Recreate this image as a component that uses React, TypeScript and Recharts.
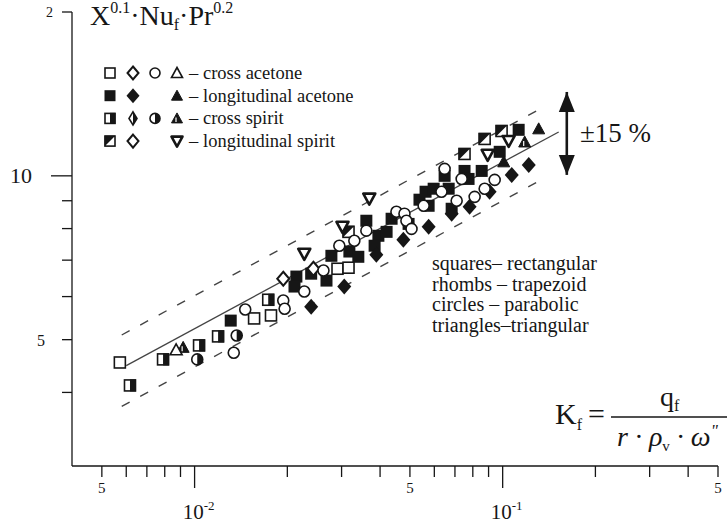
import React from "react";
import { ScatterChart, Scatter, XAxis, YAxis, ReferenceLine } from "recharts";

type Pt = [number, number];

const INK = "#161616";
const SERIF = "'Liberation Serif', 'Times New Roman', serif";

// axis ticks
const xTicks = [0.005, 0.006, 0.007, 0.008, 0.009, 0.01, 0.02, 0.03, 0.04, 0.05, 0.06, 0.07, 0.08, 0.09, 0.1, 0.2, 0.3, 0.4, 0.5];
const yTicks = [4, 5, 6, 7, 8, 9, 10, 20];

// cross acetone (open marks)
const caSquares: Pt[] = [[0.00572, 4.54], [0.0156, 5.47], [0.0177, 5.54], [0.0291, 6.75], [0.0316, 6.78]];
const caDiamonds: Pt[] = [[0.0194, 6.47], [0.0243, 6.75]];
const caCircles: Pt[] = [
  [0.0134, 4.73], [0.0146, 5.68], [0.0194, 5.9], [0.0196, 5.7], [0.0227, 6.13], [0.0262, 6.7],
  [0.0295, 7.44], [0.033, 7.6], [0.0361, 7.93], [0.0452, 8.59], [0.048, 8.52], [0.0487, 8.27],
  [0.0506, 7.99], [0.0554, 8.81], [0.0633, 9.35], [0.0648, 10.3], [0.0709, 9.0], [0.0736, 9.87],
  [0.0811, 9.15], [0.0874, 9.47], [0.0942, 9.83],
];
const caTriangles: Pt[] = [[0.00871, 4.79]];

// longitudinal acetone (filled marks)
const laSquares: Pt[] = [
  [0.0131, 5.42], [0.0214, 6.53], [0.0211, 6.26], [0.0239, 6.61], [0.0268, 6.42], [0.0278, 7.13],
  [0.0318, 7.26], [0.034, 7.1], [0.0361, 8.27], [0.0395, 7.76], [0.042, 7.89], [0.0384, 7.44],
  [0.0436, 8.34], [0.0495, 8.16], [0.0537, 9.04], [0.0562, 9.35], [0.0597, 9.47], [0.0668, 9.47],
  [0.0648, 10.0], [0.0683, 8.7], [0.0752, 10.21], [0.0855, 10.21], [0.0575, 8.81], [0.0775, 9.87],
  [0.0978, 11.07], [0.1127, 12.15],
];
const laDiamonds: Pt[] = [
  [0.0239, 5.75], [0.0306, 6.26], [0.0389, 7.16], [0.0476, 7.63], [0.0575, 8.06],
  [0.0781, 8.77], [0.0907, 9.35], [0.0683, 8.52], [0.107, 10.04], [0.1215, 10.47],
];
const laTriangles: Pt[] = [[0.1309, 12.2], [0.1008, 10.61]];

// cross spirit (half filled)
const csSquares: Pt[] = [[0.00617, 4.12], [0.0079, 4.6], [0.01034, 4.88], [0.01192, 5.07], [0.01734, 5.92]];
const csCircles: Pt[] = [[0.0102, 4.6], [0.0137, 5.09]];
const csTriangles: Pt[] = [[0.00918, 4.84], [0.1179, 11.54]];

// longitudinal spirit
const lsSquares: Pt[] = [[0.0316, 7.89], [0.0752, 10.97], [0.0874, 11.69], [0.0992, 12.09]];
const lsTriangles: Pt[] = [[0.0227, 7.19], [0.0302, 8.06], [0.0369, 9.08], [0.1046, 11.59], [0.0894, 10.93]];

// correlation line and +-15% band
const fitLine: Pt[] = [[0.006, 4.48], [0.152, 12.04]];
const upperLine: Pt[] = [[0.0058, 5.1], [0.132, 13.26]];
const lowerLine: Pt[] = [[0.0058, 3.77], [0.132, 9.8]];
const arrowTop: Pt[] = [[0.1615, 14.26]];
const arrowBottom: Pt[] = [[0.1615, 10.04]];

const legendRows = [
  { label: "cross acetone", kinds: ["sqOpen", "diaOpen", "circOpen", "triOpen"] },
  { label: "longitudinal acetone", kinds: ["sqFill", "diaFill", "", "triFill"] },
  { label: "cross spirit", kinds: ["sqHalf", "diaHalf", "circHalf", "triHalf"] },
  { label: "longitudinal spirit", kinds: ["sqDiag", "diaOpen", "", "triDown"] },
];

const notes = ["squares– rectangular", "rhombs – trapezoid", "circles – parabolic", "triangles–triangular"];

const toObj = (pts: Pt[]) => pts.map(([x, y]) => ({ x, y }));

function Marker({ kind, cx, cy, s = 6 }: { kind: string; cx: number; cy: number; s?: number }) {
  const sw = 1.6;
  const box = { x: cx - s + 0.5, y: cy - s + 0.5, width: 2 * s - 1, height: 2 * s - 1 };
  const dia = `${cx},${cy - s - 1} ${cx + s},${cy} ${cx},${cy + s + 1} ${cx - s},${cy}`;
  const tri = `${cx},${cy - s} ${cx + s},${cy + s - 1} ${cx - s},${cy + s - 1}`;
  switch (kind) {
    case "sqOpen":
      return <rect {...box} fill="#fff" stroke={INK} strokeWidth={sw} />;
    case "sqFill":
      return <rect x={cx - s} y={cy - s} width={2 * s} height={2 * s} fill={INK} />;
    case "sqHalf":
      return (
        <g>
          <rect {...box} fill="#fff" stroke={INK} strokeWidth={sw} />
          <rect x={cx} y={cy - s} width={s} height={2 * s} fill={INK} />
        </g>
      );
    case "sqDiag":
      return (
        <g>
          <rect {...box} fill="#fff" stroke={INK} strokeWidth={sw} />
          <polygon points={`${cx - s},${cy - s} ${cx + s},${cy - s} ${cx - s},${cy + s}`} fill={INK} />
        </g>
      );
    case "diaOpen":
      return <polygon points={dia} fill="#fff" stroke={INK} strokeWidth={sw + 0.4} />;
    case "diaFill":
      return <polygon points={`${cx},${cy - s - 2} ${cx + s + 1},${cy} ${cx},${cy + s + 2} ${cx - s - 1},${cy}`} fill={INK} />;
    case "diaHalf":
      return (
        <g>
          <polygon points={`${cx},${cy - s - 1} ${cx + 4},${cy} ${cx},${cy + s + 1} ${cx - 4},${cy}`} fill="#fff" stroke={INK} strokeWidth={sw} />
          <polygon points={`${cx},${cy - s - 1} ${cx + 4},${cy} ${cx},${cy + s + 1}`} fill={INK} />
        </g>
      );
    case "circOpen":
      return <circle cx={cx} cy={cy} r={s - 0.5} fill="#fff" stroke={INK} strokeWidth={sw} />;
    case "circHalf":
      return (
        <g>
          <circle cx={cx} cy={cy} r={s - 0.5} fill="#fff" stroke={INK} strokeWidth={sw} />
          <path d={`M${cx},${cy - s + 0.5} A${s - 0.5},${s - 0.5} 0 0 1 ${cx},${cy + s - 0.5} Z`} fill={INK} />
        </g>
      );
    case "triOpen":
      return <polygon points={tri} fill="#fff" stroke={INK} strokeWidth={sw} />;
    case "triFill":
      return <polygon points={tri} fill={INK} stroke={INK} strokeWidth={1} />;
    case "triHalf":
      return (
        <g>
          <polygon points={tri} fill={INK} stroke={INK} strokeWidth={1} />
          <line x1={cx - 1} y1={cy - 1} x2={cx - 1} y2={cy + s - 2} stroke="#fff" strokeWidth={1.2} />
        </g>
      );
    case "triDown":
      return (
        <polygon
          points={`${cx - s},${cy - s + 1} ${cx + s},${cy - s + 1} ${cx},${cy + s}`}
          fill="#fff"
          stroke={INK}
          strokeWidth={2.6}
          strokeLinejoin="round"
        />
      );
    default:
      return null;
  }
}

const shapeOf = (kind: string) => (p: any) => <Marker kind={kind} cx={p.cx} cy={p.cy} />;

const isDecade = (v: number) => Math.abs(Math.log10(v) - Math.round(Math.log10(v))) < 1e-6;
const isFive = (v: number) => Math.abs(v / Math.pow(10, Math.floor(Math.log10(v) + 1e-9)) - 5) < 1e-6;

function XTick(props: any) {
  const { x, y, payload } = props;
  const v = payload.value as number;
  const major = isDecade(v);
  return (
    <g>
      <line x1={x} x2={x} y1={y} y2={y + (major ? 22 : 11)} stroke={INK} strokeWidth={1.3} />
      {isFive(v) && (
        <text x={x} y={y + 27} textAnchor="middle" fontSize={15} fontFamily={SERIF} fill={INK}>
          5
        </text>
      )}
      {major && (
        <text x={x + 4} y={y + 53} textAnchor="middle" fontSize={21} fontFamily={SERIF} fill={INK}>
          10
          <tspan fontSize={13} dy={-9}>
            {Math.round(Math.log10(v))}
          </tspan>
        </text>
      )}
    </g>
  );
}

function YTick(props: any) {
  const { x, y, payload } = props;
  const v = payload.value as number;
  const major = v === 10;
  return (
    <g>
      <line x1={x - (major ? 21 : 10)} x2={x} y1={y} y2={y} stroke={INK} strokeWidth={1.3} />
      {v === 10 && (
        <text x={x - 40} y={y + 7} textAnchor="end" fontSize={22} fontFamily={SERIF} fill={INK}>
          10
        </text>
      )}
      {v === 5 && (
        <text x={x - 27} y={y + 6} textAnchor="end" fontSize={16} fontFamily={SERIF} fill={INK}>
          5
        </text>
      )}
      {v === 20 && (
        <text x={x - 19} y={y + 5} textAnchor="end" fontSize={14} fontFamily={SERIF} fill={INK}>
          2
        </text>
      )}
    </g>
  );
}

const series: { kind: string; pts: Pt[] }[] = [
  { kind: "sqFill", pts: laSquares },
  { kind: "diaFill", pts: laDiamonds },
  { kind: "triFill", pts: laTriangles },
  { kind: "sqDiag", pts: lsSquares },
  { kind: "triDown", pts: lsTriangles },
  { kind: "sqHalf", pts: csSquares },
  { kind: "circHalf", pts: csCircles },
  { kind: "triHalf", pts: csTriangles },
  { kind: "sqOpen", pts: caSquares },
  { kind: "diaOpen", pts: caDiamonds },
  { kind: "circOpen", pts: caCircles },
  { kind: "triOpen", pts: caTriangles },
];

const seg = (pts: Pt[]) => pts.map(([x, y]) => ({ x, y })) as any;

export default function App() {
  const legendX = [110, 133, 155, 177];
  return (
    <div style={{ position: "absolute", left: 0, top: 0, width: 727, height: 525, background: "#fff" }}>
      <ScatterChart width={727} height={525} margin={{ top: 12, right: 9, bottom: 58, left: 71 }}>
        <XAxis
          type="number"
          dataKey="x"
          scale="log"
          domain={[0.004, 0.5]}
          ticks={xTicks}
          interval={0}
          tick={<XTick />}
          tickLine={false}
          tickSize={0}
          tickMargin={0}
          height={1}
          axisLine={{ stroke: INK, strokeWidth: 1.3 }}
          allowDataOverflow
        />
        <YAxis
          type="number"
          dataKey="y"
          scale="log"
          domain={[2.93, 20]}
          ticks={yTicks}
          interval={0}
          tick={<YTick />}
          tickLine={false}
          tickSize={0}
          tickMargin={0}
          width={1}
          axisLine={{ stroke: INK, strokeWidth: 1.3 }}
          allowDataOverflow
        />
        <ReferenceLine segment={seg(upperLine)} stroke="#444" strokeWidth={1.4} strokeDasharray="9 12" ifOverflow="visible" />
        <ReferenceLine segment={seg(lowerLine)} stroke="#444" strokeWidth={1.4} strokeDasharray="9 12" ifOverflow="visible" />
        <ReferenceLine segment={seg(fitLine)} stroke="#444" strokeWidth={1.3} ifOverflow="visible" />
        <ReferenceLine segment={seg([arrowTop[0], arrowBottom[0]])} stroke={INK} strokeWidth={2.6} ifOverflow="visible" />
        <Scatter
          data={toObj(arrowTop)}
          isAnimationActive={false}
          shape={(p: any) => <polygon points={`${p.cx},${p.cy} ${p.cx + 8},${p.cy + 20} ${p.cx - 8},${p.cy + 20}`} fill={INK} />}
        />
        <Scatter
          data={toObj(arrowBottom)}
          isAnimationActive={false}
          shape={(p: any) => <polygon points={`${p.cx},${p.cy} ${p.cx + 8},${p.cy - 20} ${p.cx - 8},${p.cy - 20}`} fill={INK} />}
        />
        {series.map((s) => (
          <Scatter key={s.kind} data={toObj(s.pts)} isAnimationActive={false} shape={shapeOf(s.kind)} />
        ))}
      </ScatterChart>

      {/* labels, legend and notes */}
      <svg
        width={727}
        height={525}
        style={{ position: "absolute", left: 0, top: 0, pointerEvents: "none" }}
        fontFamily={SERIF}
        fill={INK}
      >
        <text x={90} y={25} fontSize={28}>
          X<tspan fontSize={16} dy={-12}>0.1</tspan>
          <tspan dy={12}>·Nu</tspan>
          <tspan fontSize={16} dy={5}>f</tspan>
          <tspan dy={-5}>·Pr</tspan>
          <tspan fontSize={16} dy={-12}>0.2</tspan>
        </text>

        {legendRows.map((row, i) => {
          const y = 73 + i * 22.7;
          return (
            <g key={row.label}>
              {row.kinds.map((k, j) => (k ? <Marker key={j} kind={k} cx={legendX[j]} cy={y} s={5.5} /> : null))}
              <text x={189} y={y + 6} fontSize={18.5}>–</text>
              <text x={203} y={y + 6} fontSize={18.5}>{row.label}</text>
            </g>
          );
        })}

        <text x={580} y={142} fontSize={27}>±15 %</text>

        {notes.map((n, i) => (
          <text key={n} x={432} y={270 + i * 20.7} fontSize={20}>
            {n}
          </text>
        ))}

        <text x={555} y={424} fontSize={30}>
          K<tspan fontSize={16} dy={6}>f</tspan>
        </text>
        <text x={588} y={424} fontSize={30}>=</text>
        <line x1={611} x2={727} y1={417} y2={417} stroke={INK} strokeWidth={1.3} />
        <text x={660} y={406} fontSize={28}>
          q<tspan fontSize={16} dy={5}>f</tspan>
        </text>
        <text x={617} y={446} fontSize={28} fontStyle="italic">
          r · ρ<tspan fontSize={15} dy={5} fontStyle="normal">v</tspan>
          <tspan dy={-5}> · ω</tspan>
          <tspan fontSize={17} dy={-10}>"</tspan>
        </text>
      </svg>
    </div>
  );
}
